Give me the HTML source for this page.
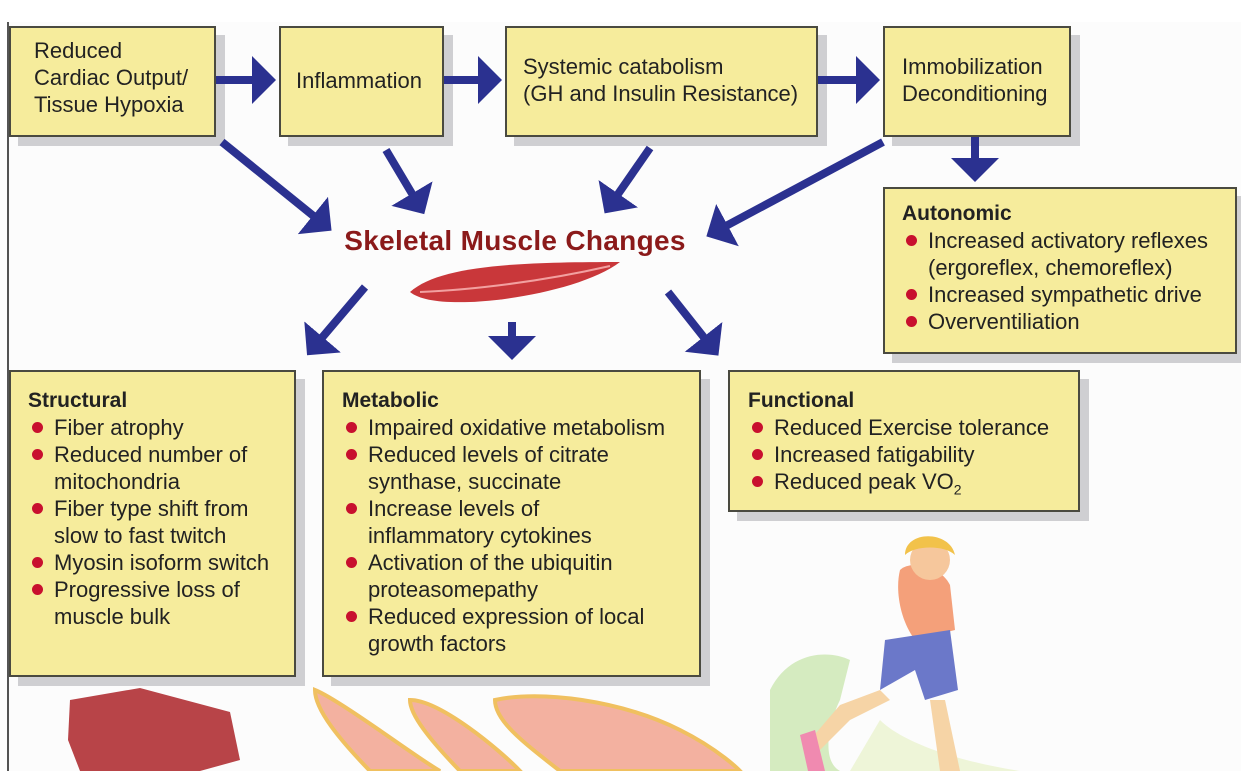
<!DOCTYPE html>
<html><head><meta charset="utf-8"><style>
body{margin:0;width:1241px;height:771px;background:#fff;overflow:hidden;position:relative;font-family:"Liberation Sans",sans-serif;color:#222}
.pg{position:absolute;left:7px;top:22px;width:1234px;height:749px;background:#fcfcfc;border-left:2px solid #555}
.b{position:absolute;background:#f6ec9c;border:2px solid #4a4a40;box-shadow:9px 9px 0 #cfcfd2;font-size:22px;line-height:27px;box-sizing:border-box;white-space:nowrap}
.b h4{margin:0;font-size:21px;font-weight:bold}
.b ul{margin:0;padding:0;list-style:none}
.b li{position:relative;padding-left:26px}
.b li:before{content:"";position:absolute;left:4px;top:8px;width:11px;height:11px;border-radius:50%;background:#c8102e}
</style></head><body>
<div class="pg"></div>
<div class="b" style="left:9px;top:26px;width:207px;height:111px;padding:9px 0 0 23px">Reduced<br>Cardiac Output/<br>Tissue Hypoxia</div>
<div class="b" style="left:279px;top:26px;width:165px;height:111px;padding:39px 0 0 15px">Inflammation</div>
<div class="b" style="left:505px;top:26px;width:313px;height:111px;padding:25px 0 0 16px">Systemic catabolism<br>(GH and Insulin Resistance)</div>
<div class="b" style="left:883px;top:26px;width:188px;height:111px;padding:25px 0 0 17px">Immobilization<br>Deconditioning</div>
<div class="b" style="left:883px;top:187px;width:354px;height:167px;padding:11px 0 0 17px"><h4>Autonomic</h4><ul><li>Increased activatory reflexes<br>(ergoreflex, chemoreflex)</li><li>Increased sympathetic drive</li><li>Overventiliation</li></ul></div>
<div class="b" style="left:9px;top:370px;width:287px;height:307px;padding:15px 0 0 17px"><h4>Structural</h4><ul><li>Fiber atrophy</li><li>Reduced number of<br>mitochondria</li><li>Fiber type shift from<br>slow to fast twitch</li><li>Myosin isoform switch</li><li>Progressive loss of<br>muscle bulk</li></ul></div>
<div class="b" style="left:322px;top:370px;width:379px;height:307px;padding:15px 0 0 18px"><h4>Metabolic</h4><ul><li>Impaired oxidative metabolism</li><li>Reduced levels of citrate<br>synthase, succinate</li><li>Increase levels of<br>inflammatory cytokines</li><li>Activation of the ubiquitin<br>proteasomepathy</li><li>Reduced expression of local<br>growth factors</li></ul></div>
<div class="b" style="left:728px;top:370px;width:352px;height:142px;padding:15px 0 0 18px"><h4>Functional</h4><ul><li>Reduced Exercise tolerance</li><li>Increased fatigability</li><li>Reduced peak VO<sub style="font-size:14px">2</sub></li></ul></div>
<div style="position:absolute;left:290px;top:225px;width:450px;text-align:center;font-size:28px;font-weight:bold;color:#8b1a1a;letter-spacing:0.3px">Skeletal Muscle Changes</div>
<svg width="1241" height="771" style="position:absolute;left:0;top:0">
<defs><marker id="a" markerWidth="6" markerHeight="6" refX="0.5" refY="3" orient="auto" markerUnits="strokeWidth"><path d="M0,0 L3,3 L0,6 z" fill="#2b3190"/></marker></defs>
<g stroke="#2b3190" stroke-width="8" fill="none" marker-end="url(#a)">
<line x1="216" y1="80" x2="256" y2="80"/><line x1="444" y1="80" x2="482" y2="80"/><line x1="818" y1="80" x2="860" y2="80"/>
<line x1="222" y1="142" x2="316" y2="218"/><line x1="386" y1="150" x2="414" y2="197"/><line x1="650" y1="148" x2="616" y2="197"/><line x1="883" y1="142" x2="724" y2="227"/>
<line x1="975" y1="137" x2="975" y2="162"/>
<line x1="365" y1="287" x2="320" y2="340"/><line x1="512" y1="322" x2="512" y2="340"/><line x1="668" y1="292" x2="706" y2="340"/>
</g>
<path d="M410,292 C440,265 520,262 620,262 C590,285 520,300 470,302 C440,303 420,300 410,292z" fill="#c9373a"/>
<path d="M420,292 C470,290 540,282 610,266" stroke="#f2a0a0" stroke-width="2" fill="none"/>
<path d="M70,700 L140,688 L230,712 L240,760 L200,771 L80,771 L68,740z" fill="#b84448"/>
<path d="M315,690 C340,700 420,760 440,771 L370,771 C340,740 315,710 315,690z" fill="#f3b1a0" stroke="#f0c060" stroke-width="4"/>
<path d="M410,700 C440,700 500,750 520,771 L460,771 C430,740 410,715 410,700z" fill="#f3b1a0" stroke="#f0c060" stroke-width="4"/>
<path d="M495,700 C540,690 620,700 680,730 C720,750 740,771 740,771 L560,771 C520,740 495,720 495,700z" fill="#f3b1a0" stroke="#f0c060" stroke-width="4"/>
<path d="M770,690 C790,650 830,650 850,660 L840,700 C830,720 820,760 840,771 L770,771z" fill="#d5ebc0"/>
<path d="M880,720 C900,740 950,760 1020,771 L850,771z" fill="#eef5d8"/>
<path d="M900,570 C910,560 940,565 950,585 L955,630 L915,640 C900,620 895,590 900,570z" fill="#f4a07a"/>
<circle cx="930" cy="560" r="20" fill="#f6c79c"/><path d="M905,555 C905,530 950,530 955,555 C945,545 915,545 905,555z" fill="#f2c24a"/>
<path d="M885,640 L950,630 L958,690 L925,700 L915,670 L880,690z" fill="#6b78c9"/>
<path d="M880,690 L840,705 L810,740 L820,750 L850,720 L890,700z" fill="#f6d4a6"/>
<path d="M930,700 L945,700 L960,771 L940,771z" fill="#f6d4a6"/>
<path d="M800,735 L815,730 L825,771 L808,771z" fill="#f08ab0"/>
</svg>
</body></html>
